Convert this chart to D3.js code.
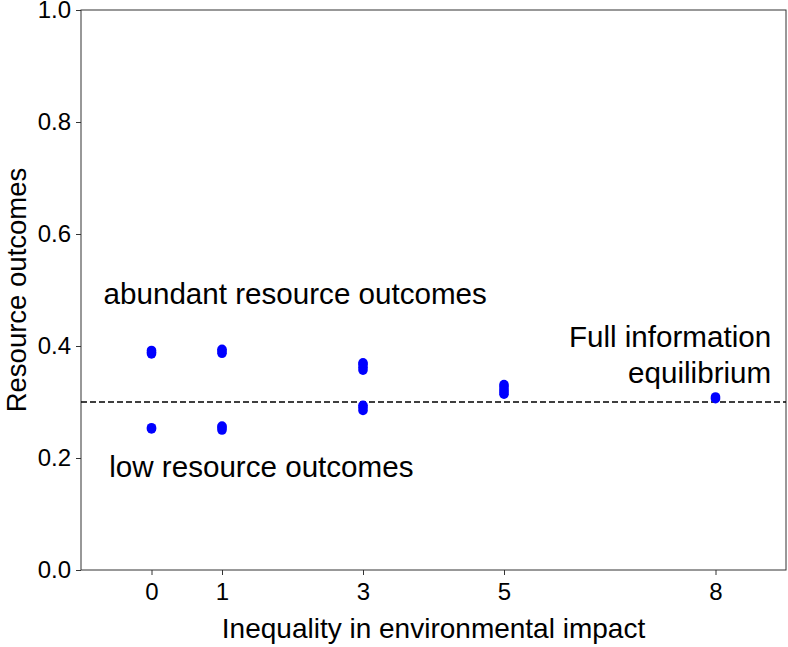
<!DOCTYPE html>
<html>
<head>
<meta charset="utf-8">
<script src="https://cdn.jsdelivr.net/npm/d3@7"></script>
<style>
  body { margin: 0; background: #fff; }
  text { font-family: "Liberation Sans", Arial, Helvetica, sans-serif; fill: #000; }
</style>
</head>
<body>
<script>
// Data
var inequality = [0, 1, 3, 5, 8];
var outcomes = [
    [0.386, 0.389, 0.392, 0.252, 0.254],
    [0.387, 0.391, 0.394, 0.250, 0.254, 0.257],
    [0.357, 0.362, 0.367, 0.370, 0.285, 0.290, 0.294],
    [0.314, 0.318, 0.322, 0.327, 0.331],
    [0.306, 0.309]
];
var equilibrium = 0.3;
var xTicks = [0, 1, 3, 5, 8];
var yTicks = [0, 0.2, 0.4, 0.6, 0.8, 1.0];

// SVG dimensions
var svgWidth = 788;
var svgHeight = 647;
var margin = { top: 10, right: 2, bottom: 77, left: 81 };
var chartWidth = svgWidth - margin.left - margin.right;
var chartHeight = svgHeight - margin.top - margin.bottom;

var svg = d3.select("body")
    .append("svg")
    .attr("width", svgWidth)
    .attr("height", svgHeight);

var chartGroup = svg.append("g")
    .attr("transform", `translate(${margin.left}, ${margin.top})`);

var xScale = d3.scaleLinear().domain([-1, 9]).range([0, chartWidth]);
var yScale = d3.scaleLinear().domain([0, 1]).range([chartHeight, 0]);

// flatten points
var points = [];
inequality.forEach((x, i) => {
    outcomes[i].forEach(v => points.push({ x: x, y: v }));
});

// Axes
var bottomAxis = d3.axisBottom(xScale)
    .tickValues(xTicks)
    .tickFormat(d3.format("d"))
    .tickSize(5)
    .tickPadding(8)
    .tickSizeOuter(0);
var leftAxis = d3.axisLeft(yScale)
    .tickValues(yTicks)
    .tickFormat(d3.format(".1f"))
    .tickSize(5)
    .tickPadding(5)
    .tickSizeOuter(0);

var xAxisG = chartGroup.append("g")
    .attr("transform", `translate(0, ${chartHeight})`)
    .call(bottomAxis);
var yAxisG = chartGroup.append("g")
    .call(leftAxis);

[xAxisG, yAxisG].forEach(g => {
    g.select(".domain").remove();
    g.selectAll(".tick line").attr("stroke", "#333").attr("stroke-width", 1);
    g.selectAll(".tick text")
        .attr("font-family", "Liberation Sans, Arial, sans-serif")
        .attr("font-size", 24)
        .attr("fill", "#000");
});

// Frame
chartGroup.append("rect")
    .attr("x", 0)
    .attr("y", 0)
    .attr("width", chartWidth)
    .attr("height", chartHeight)
    .attr("fill", "none")
    .attr("stroke", "#333")
    .attr("stroke-width", 1);

// Equilibrium line
chartGroup.append("line")
    .attr("x1", 0)
    .attr("x2", chartWidth)
    .attr("y1", yScale(equilibrium))
    .attr("y2", yScale(equilibrium))
    .attr("stroke", "#000")
    .attr("stroke-width", 1.5)
    .attr("stroke-dasharray", "6,3");

// Points
chartGroup.selectAll("circle")
    .data(points)
    .enter()
    .append("circle")
    .attr("cx", d => xScale(d.x))
    .attr("cy", d => yScale(d.y))
    .attr("r", 4.8)
    .attr("fill", "#0000ff");

// Annotations
chartGroup.append("text")
    .attr("x", xScale(-0.68))
    .attr("y", yScale(0.475))
    .attr("font-size", 29.6)
    .text("abundant resource outcomes");

chartGroup.append("text")
    .attr("x", xScale(-0.6))
    .attr("y", yScale(0.166))
    .attr("font-size", 29.6)
    .text("low resource outcomes");

chartGroup.append("text")
    .attr("x", xScale(8.79))
    .attr("y", yScale(0.398))
    .attr("text-anchor", "end")
    .attr("font-size", 29.6)
    .text("Full information");

chartGroup.append("text")
    .attr("x", xScale(8.79))
    .attr("y", yScale(0.334))
    .attr("text-anchor", "end")
    .attr("font-size", 29.6)
    .text("equilibrium");

// Axis labels
svg.append("text")
    .attr("x", margin.left + chartWidth / 2)
    .attr("y", 638)
    .attr("text-anchor", "middle")
    .attr("font-size", 28)
    .text("Inequality in environmental impact");

svg.append("text")
    .attr("transform", `translate(26, ${margin.top + chartHeight / 2}) rotate(-90)`)
    .attr("text-anchor", "middle")
    .attr("font-size", 27.5)
    .text("Resource outcomes");
</script>
</body>
</html>
